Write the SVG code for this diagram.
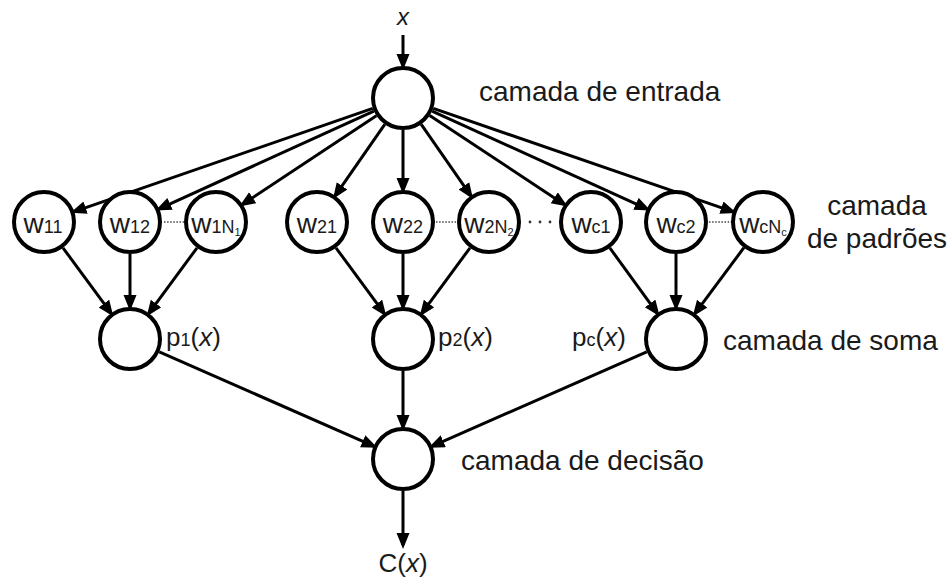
<svg xmlns="http://www.w3.org/2000/svg" width="951" height="577" viewBox="0 0 951 577">
<style>
.node{fill:#fff;stroke:#000;stroke-width:4}
.edge{stroke:#000;stroke-width:3;fill:none;marker-end:url(#arr)}
.t{font-family:"Liberation Sans",Arial,sans-serif;fill:#1a1a1a}
.lbl{font-size:28px}
.w{font-size:28px;text-anchor:middle}
.s{font-size:18px}
.ss{font-size:11px}
.it{font-style:italic}
.dots{stroke:#444;stroke-width:1.5;stroke-dasharray:1.5 1.6}
</style>
<defs>
<marker id="arr" markerUnits="userSpaceOnUse" markerWidth="17" markerHeight="14" refX="12" refY="6.5" orient="auto">
<path d="M0,0 L16,6.5 L0,13 Z" fill="#000"/>
</marker>
</defs>
<rect width="951" height="577" fill="#fff"/>
<g id="connectors">
<line class="edge" x1="403" y1="35" x2="403" y2="66"/>
<line class="edge" x1="372.75" y1="108.45" x2="74.25" y2="211.55"/>
<line class="edge" x1="373.86" y1="111.24" x2="159.14" y2="208.76"/>
<line class="edge" x1="376.33" y1="115.68" x2="242.67" y2="204.32"/>
<line class="edge" x1="384.76" y1="124.3" x2="335.24" y2="195.7"/>
<line class="edge" x1="403" y1="130" x2="403" y2="190"/>
<line class="edge" x1="421.24" y1="124.3" x2="470.76" y2="195.7"/>
<line class="edge" x1="429.71" y1="115.62" x2="564.29" y2="204.38"/>
<line class="edge" x1="432.14" y1="111.24" x2="646.86" y2="208.76"/>
<line class="edge" x1="433.26" y1="108.42" x2="732.74" y2="211.58"/>
<line class="edge" x1="62.95" y1="247.79" x2="111.05" y2="313.21"/>
<line class="edge" x1="130" y1="254" x2="130" y2="307"/>
<line class="edge" x1="197.05" y1="247.79" x2="148.95" y2="313.21"/>
<line class="edge" x1="335.95" y1="247.79" x2="384.05" y2="313.21"/>
<line class="edge" x1="403" y1="254" x2="403" y2="307"/>
<line class="edge" x1="470.05" y1="247.79" x2="421.95" y2="313.21"/>
<line class="edge" x1="609.81" y1="247.89" x2="657.19" y2="313.11"/>
<line class="edge" x1="676" y1="254" x2="676" y2="307"/>
<line class="edge" x1="743.91" y1="247.68" x2="695.09" y2="313.32"/>
<line class="edge" x1="159.3" y1="351.88" x2="373.7" y2="446.12"/>
<line class="edge" x1="403" y1="371" x2="403" y2="427"/>
<line class="edge" x1="646.7" y1="351.88" x2="432.3" y2="446.12"/>
<line class="edge" x1="403" y1="491" x2="403" y2="545"/>
</g>
<g id="ellipses">
<line class="dots" x1="164" y1="222" x2="184" y2="222"/>
<line class="dots" x1="436" y1="222" x2="456" y2="222"/>
<line class="dots" x1="709" y1="222" x2="731" y2="222"/>
<circle cx="530" cy="222" r="1.4" fill="#333"/>
<circle cx="540" cy="222" r="1.4" fill="#333"/>
<circle cx="550" cy="222" r="1.4" fill="#333"/>
</g>
<g id="input">
<circle class="node" cx="403" cy="98" r="30"/>
<text class="t it" x="403" y="25" font-size="24" text-anchor="middle">x</text>
<text class="t lbl" x="479" y="101">camada de entrada</text>
</g>
<g id="w11"><circle class="node" cx="44" cy="222" r="30"/><text class="t w" x="43" y="233">w<tspan class="s">11</tspan></text></g>
<g id="w12"><circle class="node" cx="130" cy="222" r="30"/><text class="t w" x="130" y="233">w<tspan class="s">12</tspan></text></g>
<g id="w1N1"><circle class="node" cx="216" cy="222" r="30"/><text class="t w" x="216" y="233" font-size="25">w<tspan class="s" font-size="16">1N</tspan><tspan class="ss" dy="3">1</tspan></text></g>
<g id="w21"><circle class="node" cx="317" cy="222" r="30"/><text class="t w" x="317" y="233">w<tspan class="s">21</tspan></text></g>
<g id="w22"><circle class="node" cx="403" cy="222" r="30"/><text class="t w" x="403" y="233">w<tspan class="s">22</tspan></text></g>
<g id="w2N2"><circle class="node" cx="489" cy="222" r="30"/><text class="t w" x="489" y="233" font-size="25">w<tspan class="s" font-size="16">2N</tspan><tspan class="ss" dy="3">2</tspan></text></g>
<g id="wc1"><circle class="node" cx="591" cy="222" r="30"/><text class="t w" x="591" y="233">w<tspan class="s">c1</tspan></text></g>
<g id="wc2"><circle class="node" cx="676" cy="222" r="30"/><text class="t w" x="676" y="233">w<tspan class="s">c2</tspan></text></g>
<g id="wcNc"><circle class="node" cx="763" cy="222" r="30"/><text class="t w" x="763" y="233" font-size="23">w<tspan class="s" font-size="15">cN</tspan><tspan class="ss" dy="3">c</tspan></text></g>
<g id="pattern-label"><text class="t lbl" x="877" y="215" text-anchor="middle">camada</text><text class="t lbl" x="877" y="248" text-anchor="middle">de padrões</text></g>
<g id="p1"><circle class="node" cx="130" cy="339" r="30"/><text class="t" x="166" y="346" font-size="26">p<tspan class="s">1</tspan>(<tspan class="it">x</tspan>)</text></g>
<g id="p2"><circle class="node" cx="403" cy="339" r="30"/><text class="t" x="438" y="346" font-size="26">p<tspan class="s">2</tspan>(<tspan class="it">x</tspan>)</text></g>
<g id="pc"><circle class="node" cx="676" cy="339" r="30"/><text class="t" x="572" y="346" font-size="26">p<tspan class="s">c</tspan>(<tspan class="it">x</tspan>)</text><text class="t lbl" x="723" y="350">camada de soma</text></g>
<g id="decision"><circle class="node" cx="403" cy="459" r="30"/><text class="t lbl" x="461" y="470">camada de decisão</text></g>
<g id="output"><text class="t" x="403" y="572" font-size="26" text-anchor="middle">C(<tspan class="it">x</tspan>)</text></g>
</svg>
